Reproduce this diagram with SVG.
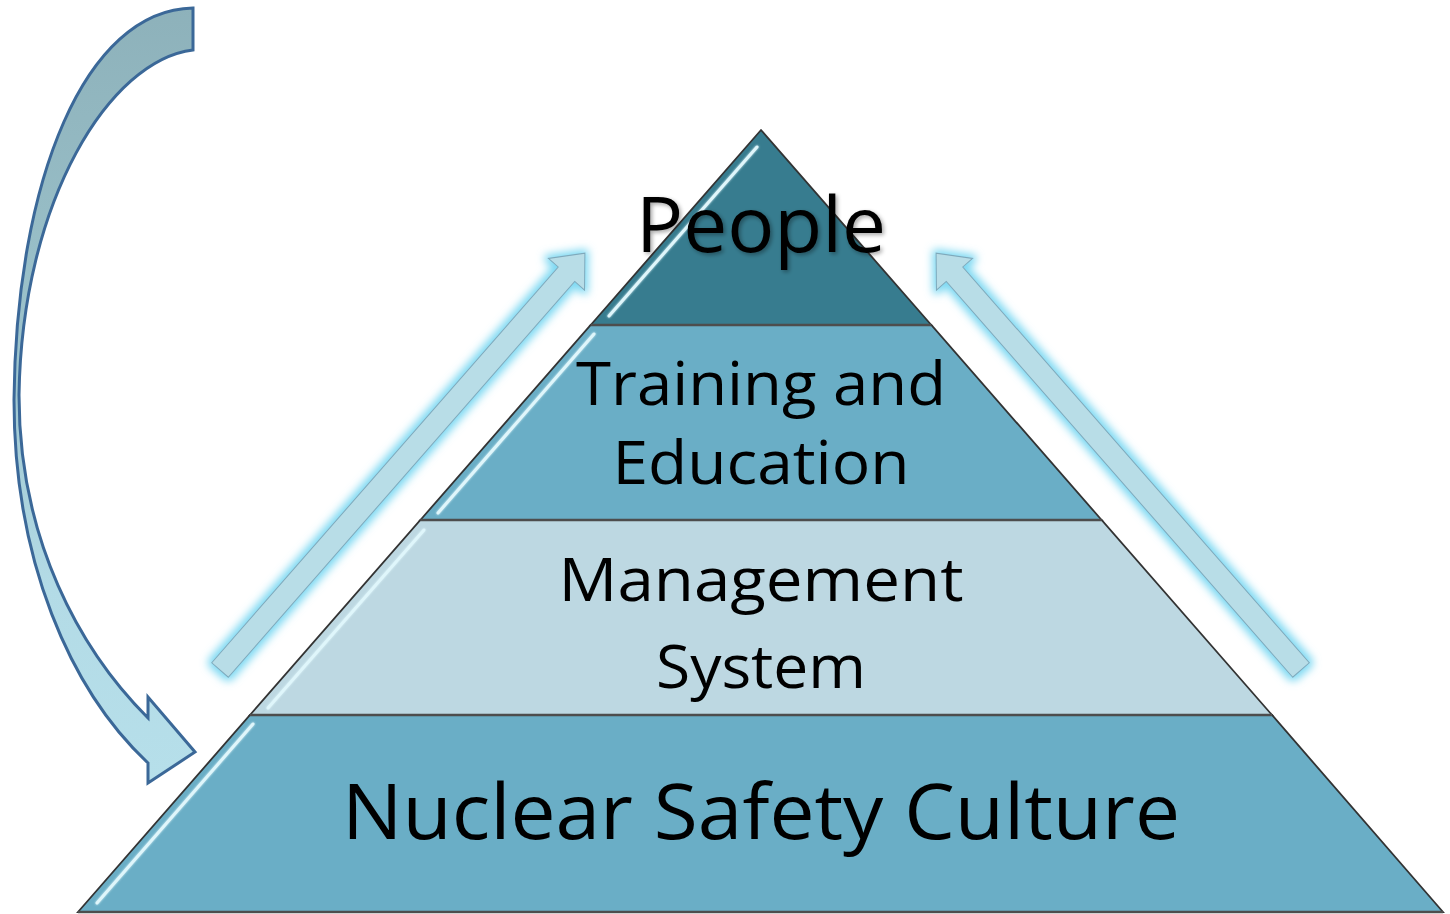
<svg xmlns="http://www.w3.org/2000/svg" width="1450" height="914" viewBox="0 0 1450 914">
  <defs>
    <style>
      .lbl { font-family: "Open Sans", "Noto Sans", "Liberation Sans", sans-serif; fill: #000; text-anchor: middle; }
      .big { font-size: 76px; }
      .mid { font-size: 60px; }
      .layer { stroke: #333333; stroke-width: 1.8; stroke-linejoin: miter; }
      .divider { stroke: #4d4d4d; stroke-width: 2.5; }
      .hl { stroke: #dff6fb; stroke-width: 3; stroke-linecap: round; fill: none; }
      .uparrow { fill: #b8dde7; stroke: #7fa9bb; stroke-width: 1; }
    </style>
    <linearGradient id="curveGrad" gradientUnits="userSpaceOnUse" x1="0" y1="0" x2="0" y2="780">
      <stop offset="0" stop-color="#8db1ba"/>
      <stop offset="0.45" stop-color="#9cc3cc"/>
      <stop offset="0.75" stop-color="#b3dbe6"/>
      <stop offset="1" stop-color="#b6dfea"/>
    </linearGradient>
    <filter id="glow" x="-20%" y="-20%" width="140%" height="140%">
      <feMorphology in="SourceAlpha" operator="dilate" radius="3" result="d"/>
      <feGaussianBlur in="d" stdDeviation="4" result="b"/>
      <feFlood flood-color="#7cd8f2"/>
      <feComposite in2="b" operator="in" result="g"/>
      <feMerge><feMergeNode in="g"/><feMergeNode in="SourceGraphic"/></feMerge>
    </filter>
    <filter id="soft" x="-20%" y="-20%" width="140%" height="140%">
      <feGaussianBlur stdDeviation="1.2"/>
    </filter>
    <filter id="tshadow" x="-10%" y="-20%" width="120%" height="140%">
      <feGaussianBlur in="SourceAlpha" stdDeviation="2" result="b"/>
      <feOffset dx="2" dy="2" result="o"/>
      <feComponentTransfer in="o" result="s"><feFuncA type="linear" slope="0.35"/></feComponentTransfer>
      <feMerge><feMergeNode in="s"/><feMergeNode in="SourceGraphic"/></feMerge>
    </filter>
  </defs>

  <rect width="1450" height="914" fill="#ffffff"/>

  <!-- Pyramid layers -->
  <g id="layer-nsc">
    <polygon class="layer" points="250,715 1272,715 1443,912 78,912" fill="#6aaec6"/>
    <line class="hl" x1="253" y1="724" x2="97" y2="903" filter="url(#soft)"/>
    <line class="hl" x1="253" y1="724" x2="97" y2="903" stroke-width="1.5" stroke="#f4fdff"/>
    <text class="lbl big" x="761" y="839" textLength="838" lengthAdjust="spacingAndGlyphs">Nuclear Safety Culture</text>
  </g>
  <g id="layer-management">
    <polygon class="layer" points="420.4,520 1101.6,520 1272,715 250,715" fill="#bdd8e2"/>
    <line class="hl" x1="424" y1="530" x2="268" y2="708" stroke="#ffffff" filter="url(#soft)"/>
    <line class="hl" x1="424" y1="530" x2="268" y2="708" stroke-width="1.5" stroke="#ffffff"/>
    <text class="lbl mid" x="761" y="601" textLength="405" lengthAdjust="spacingAndGlyphs">Management</text>
    <text class="lbl mid" x="761" y="688" textLength="210" lengthAdjust="spacingAndGlyphs">System</text>
  </g>
  <g id="layer-training">
    <polygon class="layer" points="590.7,325 931.3,325 1101.6,520 420.4,520" fill="#6aaec6"/>
    <line class="hl" x1="594" y1="334" x2="438" y2="513" filter="url(#soft)"/>
    <line class="hl" x1="594" y1="334" x2="438" y2="513" stroke-width="1.5" stroke="#f4fdff"/>
    <text class="lbl mid" x="761" y="405" textLength="370" lengthAdjust="spacingAndGlyphs">Training and</text>
    <text class="lbl mid" x="761" y="484" textLength="297" lengthAdjust="spacingAndGlyphs">Education</text>
  </g>
  <g id="layer-people">
    <polygon class="layer" points="761,130 931.3,325 590.7,325" fill="#377c8f"/>
    <line class="hl" x1="757" y1="147" x2="609" y2="316" stroke="#a9e3f2" filter="url(#soft)"/>
    <line class="hl" x1="757" y1="147" x2="609" y2="316" stroke-width="1.5" stroke="#c9f0fa"/>
    <text class="lbl big" x="761" y="252" textLength="250" lengthAdjust="spacingAndGlyphs" filter="url(#tshadow)">People</text>
  </g>

  <!-- layer dividers -->
  <g id="dividers">
    <line class="divider" x1="590.7" y1="325" x2="931.3" y2="325"/>
    <line class="divider" x1="420.4" y1="520" x2="1101.6" y2="520"/>
    <line class="divider" x1="250" y1="715" x2="1272" y2="715"/>
    <line class="divider" x1="78" y1="912" x2="1443" y2="912"/>
  </g>

  <!-- Connectors -->
  <g id="connectors">
    <g id="curved-arrow">
      <path d="M193,8 C85,10 16,180 14,400 C14,560 70,690 148,763 L148,783 L195,752 L148,697 L148,718 C80,650 19,540 19,395 C22,200 110,60 193,50 Z" fill="url(#curveGrad)" stroke="#3b6898" stroke-width="3" stroke-linejoin="miter"/>
    </g>
    <g id="up-arrow-left" filter="url(#glow)">
      <path class="uparrow" transform="translate(220,670) rotate(-48.8)" d="M0,-11 L526,-11 L526,-24 L554,0 L526,24 L526,11 L0,11 Z"/>
    </g>
    <g id="up-arrow-right" filter="url(#glow)">
      <path class="uparrow" transform="translate(1301,670) rotate(-131.2)" d="M0,-11 L526,-11 L526,-24 L554,0 L526,24 L526,11 L0,11 Z"/>
    </g>
  </g>
</svg>
